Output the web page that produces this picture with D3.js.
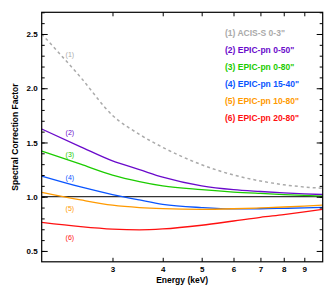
<!DOCTYPE html>
<html>
<head>
<meta charset="utf-8">
<script src="https://cdn.jsdelivr.net/npm/d3@7"></script>
<style>
  body { margin: 0; background: #fff; }
  text { font-family: "Liberation Sans", Arial, sans-serif; font-weight: bold; }
</style>
</head>
<body>
<div id="chart"></div>
<script>
var energy = [2, 2.5, 3, 3.5, 4, 5, 6, 7, 8, 9, 10];

var acis0_3   = [2.50, 2.10, 1.75, 1.575, 1.455, 1.295, 1.20, 1.145, 1.11, 1.09, 1.077];
var pn0_50    = [1.624, 1.46, 1.33, 1.25, 1.18, 1.10, 1.065, 1.048, 1.035, 1.026, 1.02];
var pn0_80    = [1.421, 1.30, 1.20, 1.14, 1.10, 1.065, 1.043, 1.03, 1.02, 1.012, 1.006];
var pn15_40   = [1.19, 1.09, 1.02, 0.97, 0.93, 0.90, 0.888, 0.889, 0.893, 0.897, 0.902];
var pn10_80   = [1.04, 0.97, 0.922, 0.90, 0.89, 0.884, 0.889, 0.897, 0.905, 0.914, 0.923];
var pn20_80   = [0.764, 0.725, 0.702, 0.695, 0.703, 0.737, 0.776, 0.81, 0.835, 0.86, 0.884];

var names  = ['(1) ACIS-S 0-3"', '(2) EPIC-pn 0-50"', '(3) EPIC-pn 0-80"',
              '(4) EPIC-pn 15-40"', '(5) EPIC-pn 10-80"', '(6) EPIC-pn 20-80"'];
var tags   = ["(1)", "(2)", "(3)", "(4)", "(5)", "(6)"];
var colors = ["#aaaaaa", "#6a0acb", "#1ccc00", "#0a55ff", "#ff9a00", "#ff1010"];
// where the small (n) tags sit next to each curve
var tagE = 2.35;
var tagV = [2.315, 1.59, 1.39, 1.175, 0.893, 0.626];

var xTicks = [3, 4, 5, 6, 7, 8, 9];
var yMajor = [0.5, 1.0, 1.5, 2.0, 2.5];
var yMinor = d3.range(0.5, 2.71, 0.1).map(d => +d.toFixed(1));

var series = [acis0_3, pn0_50, pn0_80, pn15_40, pn10_80, pn20_80];

var W = 336, H = 288;
var pL = 41.7, pR = 322.7, pT = 12.3, pB = 261.8;

var svg = d3.select("#chart").append("svg")
    .attr("width", W)
    .attr("height", H);

var x = d3.scaleLog().domain([2, 10]).range([pL, pR]);
var y = d3.scaleLinear().domain([0.4, 2.7]).range([pB, pT]);

// reference line at 1.0
svg.append("line")
    .attr("x1", pL).attr("x2", pR)
    .attr("y1", y(1)).attr("y2", y(1))
    .attr("stroke", "#000").attr("stroke-width", 1);

var line = d3.line()
    .x((d, i) => x(energy[i]))
    .y(d => y(d))
    .curve(d3.curveMonotoneX);

svg.selectAll("path.curve")
    .data(series)
    .enter()
    .append("path")
    .attr("class", "curve")
    .attr("d", line)
    .attr("fill", "none")
    .attr("stroke", (d, i) => colors[i])
    .attr("stroke-width", (d, i) => i == 0 ? 1.5 : 1.3)
    .attr("stroke-dasharray", (d, i) => i == 0 ? "3,3" : null);

// tags by the curves
svg.selectAll("text.tag")
    .data(tags)
    .enter()
    .append("text")
    .attr("class", "tag")
    .attr("x", x(tagE))
    .attr("y", (d, i) => y(tagV[i]))
    .attr("dy", "0.35em")
    .attr("text-anchor", "middle")
    .style("font-size", "7px")
    .style("font-weight", "normal")
    .attr("fill", (d, i) => colors[i])
    .text(d => d);

// legend
svg.selectAll("text.legend")
    .data(names)
    .enter()
    .append("text")
    .attr("class", "legend")
    .attr("x", 225)
    .attr("y", (d, i) => 35.5 + i * 17)
    .style("font-size", "8.5px")
    .attr("fill", (d, i) => colors[i])
    .text(d => d);

// axes
var fmtY = d3.format(".1f");

function styleAxis(g) {
    g.select(".domain").remove();
    g.selectAll("line").attr("stroke", "#000").attr("stroke-width", 1);
    g.selectAll("text").style("font-size", "8px").attr("fill", "#000");
}

svg.append("g")
    .attr("transform", "translate(0," + pB + ")")
    .call(d3.axisBottom(x).tickValues(xTicks).tickFormat(d => d)
        .tickSizeInner(-4).tickSizeOuter(0).tickPadding(5))
    .call(styleAxis);

svg.append("g")
    .attr("transform", "translate(0," + pT + ")")
    .call(d3.axisTop(x).tickValues(xTicks).tickFormat("")
        .tickSizeInner(-4).tickSizeOuter(0))
    .call(styleAxis);

svg.append("g")
    .attr("transform", "translate(" + pL + ",0)")
    .call(d3.axisLeft(y).tickValues(yMajor).tickFormat(fmtY)
        .tickSizeInner(-6).tickSizeOuter(0).tickPadding(4))
    .call(styleAxis);

svg.append("g")
    .attr("transform", "translate(" + pL + ",0)")
    .call(d3.axisLeft(y).tickValues(yMinor).tickFormat("")
        .tickSizeInner(-3).tickSizeOuter(0))
    .call(styleAxis);

svg.append("g")
    .attr("transform", "translate(" + pR + ",0)")
    .call(d3.axisRight(y).tickValues(yMajor).tickFormat("")
        .tickSizeInner(-6).tickSizeOuter(0))
    .call(styleAxis);

svg.append("g")
    .attr("transform", "translate(" + pR + ",0)")
    .call(d3.axisRight(y).tickValues(yMinor).tickFormat("")
        .tickSizeInner(-3).tickSizeOuter(0))
    .call(styleAxis);

// frame
svg.append("rect")
    .attr("x", pL).attr("y", pT)
    .attr("width", pR - pL).attr("height", pB - pT)
    .attr("fill", "none")
    .attr("stroke", "#000").attr("stroke-width", 1.2);

// axis titles
svg.append("text")
    .attr("x", (pL + pR) / 2)
    .attr("y", 283)
    .attr("text-anchor", "middle")
    .style("font-size", "8.5px")
    .text("Energy (keV)");

svg.append("text")
    .attr("transform", "translate(18," + ((pT + pB) / 2) + ") rotate(-90)")
    .attr("text-anchor", "middle")
    .style("font-size", "8.5px")
    .text("Spectral Correction Factor");
</script>
</body>
</html>
